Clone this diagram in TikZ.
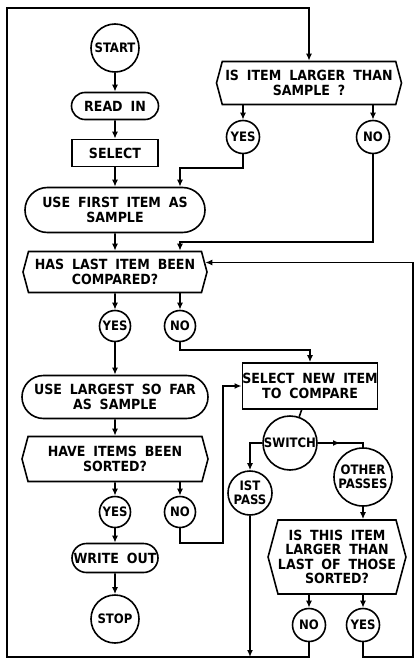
\documentclass[tikz,border=0pt]{standalone}
\usepackage{fontspec}
\setmainfont{DejaVu Sans Condensed}[WordSpace=1.8]
\usetikzlibrary{shapes.misc,shapes.symbols,arrows.meta,decorations.markings}
\begin{document}
\begin{tikzpicture}[x=1pt,y=-1pt,
  every node/.style={font=\bfseries\fontsize{14}{14.5}\selectfont, align=center, line width=1.6pt},
  small/.style={font=\bfseries\fontsize{13}{13.5}\selectfont},
  conn/.style={line width=1.6pt},
  arr/.style={conn, -{Latex[length=7pt,width=6pt]}},
  midarrow/.style={conn, postaction={decorate}, decoration={markings, mark=at position 0.45 with {\arrow{Latex[length=7pt,width=6pt]}}}},
  circ/.style={draw, circle, inner sep=0pt, small},
  stad/.style={draw, rounded rectangle, inner sep=0pt},
  boxr/.style={draw, rectangle, inner sep=0pt},
  hexa/.style={draw, signal, signal to=west and east, signal pointer angle=150, inner sep=0pt}]
\useasboundingbox (0,0) rectangle (418,666);
% left column
\node[circ, minimum size=48] (start) at (115,48) {START};
\node[stad, minimum width=87, minimum height=27] (read) at (115,106) {READ IN};
\node[boxr, minimum width=86, minimum height=27] (sel) at (115,153) {SELECT};
\node[stad, minimum width=180, minimum height=45] (use1) at (115,210) {USE FIRST ITEM AS\\SAMPLE};
\node[hexa, minimum width=184, minimum height=41] (has) at (115,272) {HAS LAST ITEM BEEN\\COMPARED?};
\node[circ, minimum size=31] (yes2) at (115,326) {YES};
\node[circ, minimum size=31] (no2) at (180,326) {NO};
\node[stad, minimum width=186, minimum height=43] (use2) at (115,397) {USE LARGEST SO FAR\\AS SAMPLE};
\node[hexa, minimum width=186, minimum height=45] (have) at (115,459) {HAVE ITEMS BEEN\\SORTED?};
\node[circ, minimum size=31] (yes3) at (115,512) {YES};
\node[circ, minimum size=31] (no3) at (180,512) {NO};
\node[stad, minimum width=86, minimum height=29] (write) at (115,558) {WRITE OUT};
\node[circ, minimum size=48] (stop) at (115,619) {STOP};
% right column
\node[hexa, minimum width=185, minimum height=43] (isl) at (309,83) {IS ITEM LARGER THAN\\SAMPLE ?};
\node[circ, minimum size=33] (yes1) at (243,137) {YES};
\node[circ, minimum size=33] (no1) at (373,137) {NO};
\node[boxr, minimum width=132, minimum height=46] (sel2) at (310,386) {SELECT NEW ITEM\\TO COMPARE};
\node[circ, minimum size=54] (sw) at (290,443) {SWITCH};
\node[circ, minimum size=44, inner sep=-3pt] (p1) at (250,493) {IST\\PASS};
\node[circ, minimum size=58, inner sep=-3pt] (op) at (363,477) {OTHER\\PASSES};
\node[hexa, minimum width=130, minimum height=74] (isthis) at (337,557) {IS THIS ITEM\\LARGER THAN\\LAST OF THOSE\\SORTED?};
\node[circ, minimum size=33] (no5) at (309,625) {NO};
\node[circ, minimum size=33] (yes5) at (363,625) {YES};
% junctions
\coordinate (bl) at (7,657);
\coordinate (tl) at (7,8);
\coordinate (br) at (413,657);
\coordinate (j1) at (180,168);
\coordinate (j2) at (180,242);
\coordinate (j3) at (310,350);
\coordinate (j4) at (223,543);
% connectors
\draw[arr] (start) -- (read);
\draw[arr] (read) -- (sel);
\draw[arr] (sel) -- (use1);
\draw[arr] (use1) -- (has);
\draw[arr] (has) -- (yes2);
\draw[arr] (has.south -| no2) -- (no2);
\draw[arr] (yes2) -- (use2);
\draw[arr] (use2) -- (have);
\draw[arr] (have) -- (yes3);
\draw[arr] (have.south -| no3) -- (no3);
\draw[arr] (yes3) -- (write);
\draw[arr] (write) -- (stop);
\draw[arr] (isl.south -| yes1) -- (yes1);
\draw[arr] (isl.south -| no1) -- (no1);
\draw[arr] (yes1) |- (j1) -- (j1 |- use1.north);
\draw[arr] (no1) |- (j2) -- (j2 |- has.north);
\draw[arr] (no2) |- (j3) -- (sel2);
\draw[arr] (no3) |- (j4) |- (sel2);
\draw[conn] (sel2) -- (sw);
\draw[arr] (sw) -| (p1);
\draw[midarrow] (sw) -| (op);
\draw[arr] (op) -- (op |- isthis.north);
\draw[arr] (isthis.south -| no5) -- (no5);
\draw[arr] (isthis.south -| yes5) -- (yes5);
\draw[arr] (p1) -- (p1 |- bl);
\draw[arr] (no5) |- (bl) -- (tl) -| (isl);
\draw[arr] (yes5) |- (br) |- (has.6);
\end{tikzpicture}
\end{document}
